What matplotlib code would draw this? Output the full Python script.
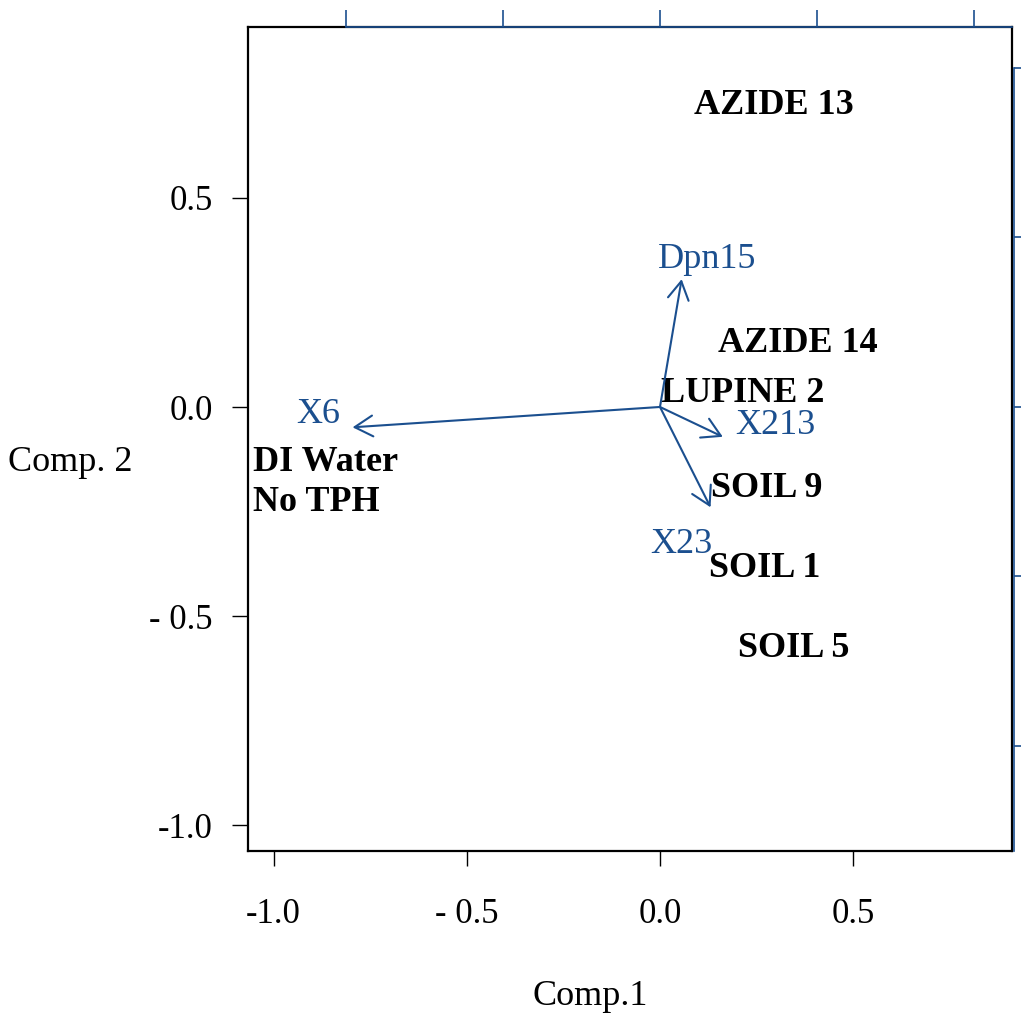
import matplotlib
matplotlib.use('Agg')
from matplotlib import pyplot as plt

plt.rcParams['font.family'] = ['Liberation Serif', 'DejaVu Serif']

# sample scores (Comp.1, Comp.2)
samples = ['AZIDE 13', 'AZIDE 14', 'LUPINE 2', 'SOIL 9', 'SOIL 1', 'SOIL 5', 'DI Water\nNo TPH']
comp1 = [0.295, 0.357, 0.213, 0.276, 0.272, 0.345, -1.053]
comp2 = [0.701, 0.132, 0.012, -0.215, -0.407, -0.598, -0.249]

# variable loadings (secondary scale)
variables = ['X6', 'Dpn15', 'X213', 'X23']
load1 = [-0.979, 0.069, 0.200, 0.161]
load2 = [-0.060, 0.377, -0.088, -0.296]
lab1 = [-1.089, 0.151, 0.368, 0.067]
lab2 = [-0.047, 0.410, -0.080, -0.431]

ticks = [-1.0, -0.5, 0.0, 0.5]
tick_labels = ['-1.0', '- 0.5', '0.0', '0.5']
sec_ticks = [-1.0, -0.5, 0.0, 0.5, 1.0]

blue = '#1B4F8F'

fig = plt.figure(figsize=(10.21, 10.17), dpi=100)
pos = [248 / 1021, 1 - 851 / 1017, 764 / 1021, 824 / 1017]
ax = fig.add_axes(pos)
ax.set_xlim(-1.066, 0.911)
ax.set_ylim(-1.062, 0.909)
for s in ax.spines.values():
    s.set_linewidth(1.6)
ax.set_xticks(ticks)
ax.set_xticklabels(tick_labels)
ax.set_yticks(ticks)
ax.set_yticklabels(tick_labels)
ax.tick_params(axis='x', direction='out', length=11, width=1.0, pad=23, labelsize=25)
ax.tick_params(axis='y', direction='out', length=11.5, width=1.0, pad=14, labelsize=25)

for name, x, y in zip(samples, comp1, comp2):
    ha = 'left' if '\n' in name else 'center'
    ax.text(x, y, name, ha=ha, va='baseline', fontsize=26, fontweight='bold',
            multialignment='left', linespacing=1.3)

ax.set_xlabel('Comp.1', fontsize=26, va='center')
ax.xaxis.set_label_coords(0.448, -0.177)
ax.set_ylabel('Comp. 2', fontsize=26, rotation=0, ha='center', va='center')
ax.yaxis.set_label_coords(-0.233, 0.471)

# secondary axes for the loadings
ax2 = fig.add_axes(pos, facecolor='none')
ax2.set_xlim(-1.312, 1.121)
ax2.set_ylim(-1.310, 1.121)
ax2.xaxis.tick_top()
ax2.yaxis.tick_right()
ax2.set_xticks(sec_ticks)
ax2.set_yticks(sec_ticks)
ax2.set_xticklabels([])
ax2.set_yticklabels([])
ax2.tick_params(axis='both', direction='out', length=12.5, width=1.2, color=blue)
ax2.spines['left'].set_visible(False)
ax2.spines['bottom'].set_visible(False)
ax2.spines['top'].set_color(blue)
ax2.spines['top'].set_linewidth(1.2)
ax2.spines['top'].set_bounds(-1.0, 1.121)
ax2.spines['right'].set_color(blue)
ax2.spines['right'].set_linewidth(1.2)
ax2.spines['right'].set_bounds(-1.310, 1.0)
ax2.spines['right'].set_position(('outward', 1.5))

for name, x, y, lx, ly in zip(variables, load1, load2, lab1, lab2):
    ax2.annotate('', xy=(x, y), xytext=(0, 0),
                 arrowprops=dict(arrowstyle='->, head_length=1.3, head_width=0.75',
                                 color=blue, lw=1.5, shrinkA=0, shrinkB=0,
                                 mutation_scale=10))
    ax2.text(lx, ly, name, ha='center', va='baseline', fontsize=26, color=blue)

fig.savefig('out.png', dpi=100)
